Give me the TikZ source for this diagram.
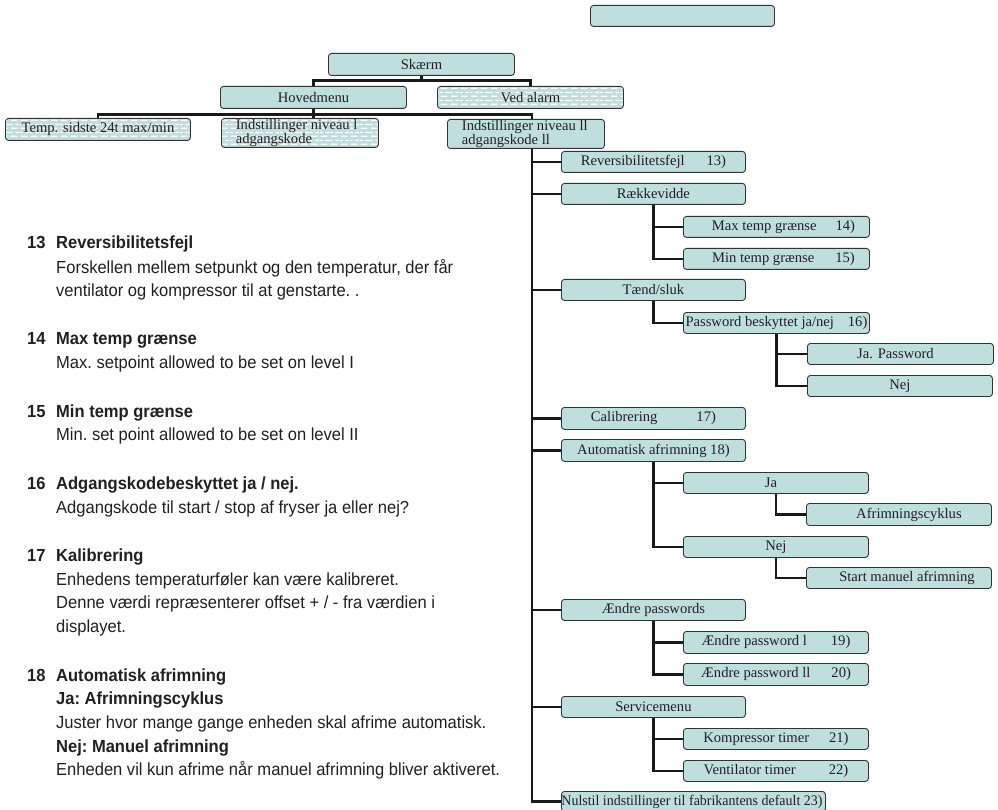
\documentclass[tikz,border=0pt]{standalone}
\usepackage{fontspec}
\usepackage{graphicx}
\setmainfont{Liberation Serif}
\newfontfamily\condsans[FakeStretch=0.945]{Liberation Sans}
\usetikzlibrary{patterns,backgrounds}
\definecolor{boxc}{HTML}{BFDFDE}
\definecolor{bordc}{HTML}{333333}
\definecolor{txtc}{HTML}{231F20}
\pgfdeclarepatternformonly{whitedash}{\pgfqpoint{0pt}{0pt}}{\pgfqpoint{10pt}{8pt}}{\pgfqpoint{10pt}{8pt}}{%
 \pgfsetlinewidth{1.3pt}%
 \pgfpathmoveto{\pgfqpoint{1pt}{2pt}}\pgfpathlineto{\pgfqpoint{8pt}{2pt}}%
 \pgfpathmoveto{\pgfqpoint{6pt}{6pt}}\pgfpathlineto{\pgfqpoint{10pt}{6pt}}%
 \pgfpathmoveto{\pgfqpoint{0pt}{6pt}}\pgfpathlineto{\pgfqpoint{3pt}{6pt}}%
 \pgfusepath{stroke}}
\tikzset{
 bx/.style={draw=bordc, line width=0.9pt, rounded corners=3pt, fill=boxc, inner sep=0pt, anchor=north west, text=txtc, font=\fontsize{14.6}{13}\selectfont},
 pbx/.style={bx, fill=none, preaction={fill=boxc}, preaction={pattern=whitedash, pattern color=white}},
 conn/.style={line width=2.8pt, draw=black!90},
 lt/.style={anchor=base west, inner sep=0pt, text=txtc, font=\condsans\fontsize{17.5}{20}\selectfont\frenchspacing},
}
\newcommand\mkbox[6]{\node[#1, minimum width=#4pt, minimum height=#5pt] (#2) at (#3) {#6};}
\newcommand\ltx[4]{\node[lt] (#1) at (#2,#3) {#4};}
\begin{document}
\begin{tikzpicture}[x=1pt,y=-1pt]
\useasboundingbox (0,0) rectangle (998,810);
% top rows
\mkbox{bx}{top}{590,5}{184}{21}{}
\mkbox{bx}{skaerm}{328,53}{186}{22}{Skærm}
\mkbox{bx}{hoved}{220,86}{186}{22}{Hovedmenu}
\mkbox{pbx}{alarm}{437,86}{186}{22}{Ved alarm}
\mkbox{pbx}{temp}{5,118}{185}{22}{Temp. sidste 24t max/min}
\mkbox{pbx, align=left}{indI}{221,118}{157}{29}{Indstillinger niveau l\\adgangskode\hspace*{52pt}}
\mkbox{bx, align=left}{indII}{447,119}{157}{29}{Indstillinger niveau ll\\adgangskode ll\hspace*{40pt}}
% level 4
\mkbox{bx}{rev}{561,151}{184}{21}{Reversibilitetsfejl\hspace{22pt}13)}
\mkbox{bx}{raek}{561,183}{184}{21}{Rækkevidde}
\mkbox{bx}{maxT}{683,216}{186}{21}{\hspace*{14pt}Max temp grænse\hspace{19pt}14)}
\mkbox{bx}{minT}{683,248}{186}{21}{\hspace*{14pt}Min temp grænse\hspace{21pt}15)}
\mkbox{bx}{taend}{561,279}{184}{21}{Tænd/sluk}
\mkbox{bx}{pw}{683,312}{186}{21}{Password beskyttet ja/nej\hspace{14pt}16)}
\mkbox{bx}{japw}{807,343}{186}{21}{\hspace*{-10pt}Ja. Password}
\mkbox{bx}{nejpw}{807,375}{185}{21}{Nej}
\mkbox{bx}{cal}{561,407}{184}{22}{Calibrering\hspace{39pt}17)}
\mkbox{bx}{auto}{561,439}{184}{22}{Automatisk afrimning 18)}
\mkbox{bx}{ja}{683,472}{185}{21}{\hspace*{-10pt}Ja}
\mkbox{bx}{afcyk}{806,503}{185}{22}{\hspace*{20pt}Afrimningscyklus}
\mkbox{bx}{nej}{683,536}{185}{21}{Nej}
\mkbox{bx}{start}{806,567}{185}{21}{\hspace*{16pt}Start manuel afrimning}
\mkbox{bx}{aendre}{561,599}{184}{21}{Ændre passwords}
\mkbox{bx}{pwone}{683,631}{185}{22}{Ændre password l\hspace{24pt}19)}
\mkbox{bx}{pwtwo}{683,663}{185}{22}{Ændre password ll\hspace{21pt}20)}
\mkbox{bx}{serv}{561,696}{184}{21}{Servicemenu}
\mkbox{bx}{komp}{683,728}{185}{21}{Kompressor timer\hspace{20pt}21)}
\mkbox{bx}{vent}{683,760}{185}{21}{Ventilator timer\hspace{33pt}22)}
\mkbox{bx}{nul}{561,791}{264}{20}{\makebox[264pt][l]{\resizebox{261pt}{\height}{Nulstil indstillinger til fabrikantens default 23)}}}
% connectors
\begin{scope}[on background layer]
\draw[conn] (skaerm.south) -- ++(0,5) -| (hoved.north);
\draw[conn] (skaerm.south) ++(0,5) -| (alarm.north);
\draw[conn] (hoved.south) -- ++(0,6) -| (temp.north);
\draw[conn] (hoved.south) -- (hoved.south |- indI.north);
\draw[conn] (hoved.south) ++(0,6) -| ([xshift=6pt]indII.north);
\coordinate (T) at ([xshift=6pt]indII.south);
\draw[conn] (T) |- (nul.west);
\foreach \n in {rev,raek,taend,cal,auto,aendre,serv}
  \draw[conn] (T |- \n.west) -- (\n.west);
\draw[conn] (raek.south) |- (minT.west);
\draw[conn] (raek.south |- maxT.west) -- (maxT.west);
\draw[conn] (taend.south) |- (pw.west);
\draw[conn] (pw.south) |- (nejpw.west);
\draw[conn] (pw.south |- japw.west) -- (japw.west);
\draw[conn] (auto.south) |- (nej.west);
\draw[conn] (auto.south |- ja.west) -- (ja.west);
\draw[conn] (ja.south) |- (afcyk.west);
\draw[conn] (nej.south) |- (start.west);
\draw[conn] (aendre.south) |- (pwtwo.west);
\draw[conn] (aendre.south |- pwone.west) -- (pwone.west);
\draw[conn] (serv.south) |- (vent.west);
\draw[conn] (serv.south |- komp.west) -- (komp.west);
\end{scope}
% left text
\ltx{n13}{27}{249}{\bfseries 13}
\ltx{h13}{56}{249}{\bfseries Reversibilitetsfejl}
\ltx{a13}{56}{273}{Forskellen mellem setpunkt og den temperatur, der får}
\ltx{b13}{56}{296}{ventilator og kompressor til at genstarte. .}
\ltx{n14}{27}{344}{\bfseries 14}
\ltx{h14}{56}{344}{\bfseries Max temp grænse}
\ltx{a14}{56}{368}{Max. setpoint allowed to be set on level I}
\ltx{n15}{27}{417}{\bfseries 15}
\ltx{h15}{56}{417}{\bfseries Min temp grænse}
\ltx{a15}{56}{440}{Min. set point allowed to be set on level II}
\ltx{n16}{27}{489}{\bfseries 16}
\ltx{h16}{56}{489}{\bfseries Adgangskodebeskyttet ja / nej.}
\ltx{a16}{56}{513}{Adgangskode til start / stop af fryser ja eller nej?}
\ltx{n17}{27}{561}{\bfseries 17}
\ltx{h17}{56}{561}{\bfseries Kalibrering}
\ltx{a17}{56}{585}{Enhedens temperaturføler kan være kalibreret.}
\ltx{b17}{56}{608}{Denne værdi repræsenterer offset + / - fra værdien i}
\ltx{c17}{56}{632}{displayet.}
\ltx{n18}{27}{681}{\bfseries 18}
\ltx{h18}{56}{681}{\bfseries Automatisk afrimning}
\ltx{a18}{56}{704}{\bfseries Ja: Afrimningscyklus}
\ltx{b18}{56}{728}{Juster hvor mange gange enheden skal afrime automatisk.}
\ltx{c18}{56}{752}{\bfseries Nej: Manuel afrimning}
\ltx{d18}{56}{775}{Enheden vil kun afrime når manuel afrimning bliver aktiveret.}
\end{tikzpicture}
\end{document}
